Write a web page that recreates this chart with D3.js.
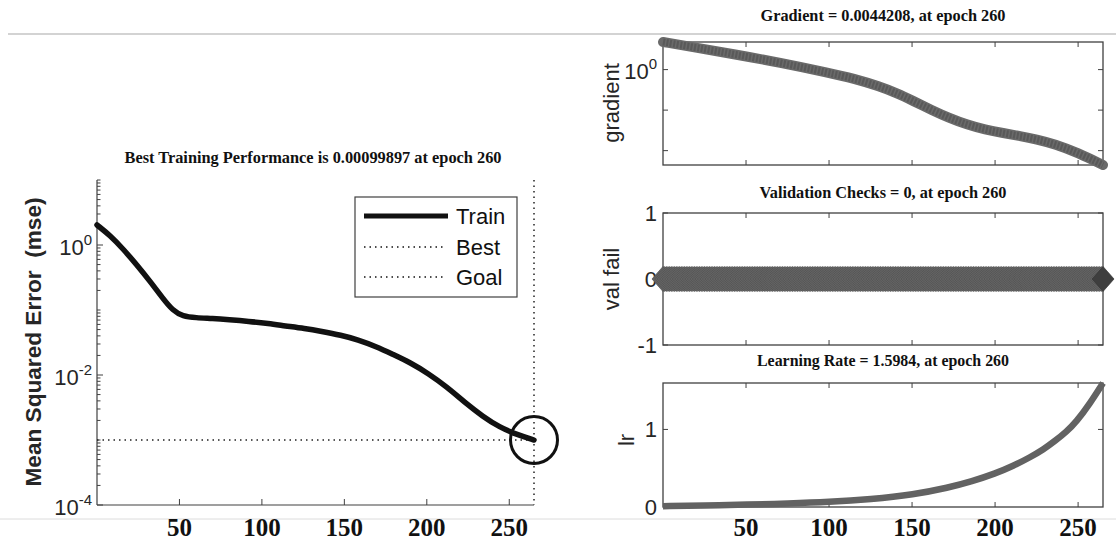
<!DOCTYPE html>
<html>
<head>
<meta charset="utf-8">
<script src="https://cdn.jsdelivr.net/npm/d3@7"></script>
<style>
  body { margin: 0; background: #fff; }
  svg { display: block; }
  text { white-space: pre; }
</style>
</head>
<body>
<svg id="chart" width="1116" height="541"></svg>
<script>
// ---- data ----
const xTicks = [50, 100, 150, 200, 250];
const lastEpoch = 265;

const trainEpochs = [0, 8, 16, 24, 32, 40, 46, 52, 60, 70, 80, 92, 104, 114, 126, 136, 148, 158, 170, 179, 190, 201, 212, 223, 234, 244, 255, 265];
const trainMse = [2.03, 1.4, 0.86, 0.5, 0.28, 0.15, 0.098, 0.08, 0.076, 0.074, 0.071, 0.067, 0.062, 0.057, 0.052, 0.047, 0.041, 0.035, 0.027, 0.021, 0.0155, 0.0105, 0.0066, 0.0038, 0.0023, 0.00158, 0.0012, 0.00099897];
const bestPerf = 0.00099897;
const goal = 0.001;
const perfTicks = [1e-4, 1e-2, 1e0];

const gradEpochs = [0, 20, 44, 70, 100, 115, 130, 141, 151, 162, 172, 183, 194, 205, 215, 225, 236, 250, 265];
const gradValues = [4.8, 3.5, 2.34, 1.5, 0.83, 0.6, 0.39, 0.26, 0.166, 0.1, 0.065, 0.044, 0.033, 0.027, 0.023, 0.019, 0.0145, 0.0088, 0.0044208];

const valEpochs = d3.range(0, lastEpoch + 1);
const valFail = valEpochs.map(() => 0);

const lrEpochs = [0, 25, 51, 75, 100, 125, 151, 172, 186, 200, 211, 221, 229, 236, 243, 249, 257, 265];
const lrValues = [0.01, 0.02, 0.03, 0.045, 0.065, 0.1, 0.16, 0.25, 0.33, 0.43, 0.53, 0.64, 0.74, 0.85, 0.97, 1.1, 1.33, 1.5984];

const titles = {
  perf: "Best Training Performance is 0.00099897 at epoch 260",
  grad: "Gradient = 0.0044208, at epoch 260",
  val: "Validation Checks = 0, at epoch 260",
  lr: "Learning Rate = 1.5984, at epoch 260"
};

const svg = d3.select("#chart");
const axisColor = "#404040";
const labelColor = "#262626";
const serif = "'Liberation Serif', 'DejaVu Serif', serif";
const sans = "'Liberation Sans', Arial, sans-serif";

// light separator lines
svg.append("line").attr("x1", 8).attr("x2", 1116).attr("y1", 34).attr("y2", 34)
  .attr("stroke", "#c4c4c4").attr("stroke-width", 1.5);
svg.append("line").attr("x1", 0).attr("x2", 1116).attr("y1", 519).attr("y2", 519)
  .attr("stroke", "#dcdcdc").attr("stroke-width", 1);

function title(text, x, y, len) {
  svg.append("text").attr("x", x).attr("y", y).attr("text-anchor", "middle")
    .attr("font-family", serif).attr("font-weight", "bold").attr("font-size", 16)
    .attr("textLength", len).attr("lengthAdjust", "spacingAndGlyphs")
    .attr("fill", "#111").text(text);
}

function powLabel(g, x, y, exp) {
  const t = g.append("text").attr("x", x).attr("y", y).attr("text-anchor", "end")
    .attr("font-family", sans).attr("font-size", 22).attr("fill", labelColor);
  t.append("tspan").text("10");
  t.append("tspan").attr("dy", -10).attr("font-size", 15).text(exp);
}

function plainYLabel(x, y, text, size, bold, len) {
  const t = svg.append("text").attr("transform", `translate(${x},${y}) rotate(-90)`)
    .attr("text-anchor", "middle").attr("font-family", sans)
    .attr("font-size", size).attr("font-weight", bold ? "bold" : "normal")
    .attr("fill", labelColor).text(text);
  if (len) t.attr("textLength", len).attr("lengthAdjust", "spacingAndGlyphs");
}

function xTickLabels(x, y) {
  svg.append("g").selectAll("text").data(xTicks).enter().append("text")
    .attr("x", d => x(d)).attr("y", y).attr("text-anchor", "middle")
    .attr("font-family", serif).attr("font-weight", "bold").attr("font-size", 25)
    .attr("fill", "#111").text(d => d);
}

// ================= left: performance =================
const xP = d3.scaleLinear().domain([0, lastEpoch]).range([97, 534]);
const yP = d3.scaleLog().domain([1e-4, 1e1]).range([505, 180]);

const gP = svg.append("g");
// minor + major log ticks, pointing inward
const minorP = [];
for (let k = -4; k < 1; k++) for (let m = 1; m < 10; m++) minorP.push(m * Math.pow(10, k));
minorP.push(10);
gP.append("g").selectAll("line").data(minorP).enter().append("line")
  .attr("x1", xP(0)).attr("x2", d => xP(0) + (perfTicks.includes(d) ? 6 : 3.5))
  .attr("y1", d => yP(d)).attr("y2", d => yP(d))
  .attr("stroke", axisColor).attr("stroke-width", 1);
gP.append("g").selectAll("line").data(xTicks).enter().append("line")
  .attr("x1", d => xP(d)).attr("x2", d => xP(d)).attr("y1", yP(1e-4)).attr("y2", yP(1e-4) - 6)
  .attr("stroke", axisColor).attr("stroke-width", 1);
gP.append("line").attr("x1", xP(0)).attr("x2", xP(0)).attr("y1", yP(1e1)).attr("y2", yP(1e-4))
  .attr("stroke", axisColor).attr("stroke-width", 1.2);
gP.append("line").attr("x1", xP(0)).attr("x2", xP(lastEpoch)).attr("y1", yP(1e-4)).attr("y2", yP(1e-4))
  .attr("stroke", axisColor).attr("stroke-width", 1.2);

perfTicks.forEach(v => powLabel(gP, xP(0) - 5, yP(v) + 10, Math.round(Math.log10(v))));

// best / goal dotted lines
gP.append("line").attr("x1", xP(lastEpoch)).attr("x2", xP(lastEpoch)).attr("y1", yP(1e1)).attr("y2", yP(1e-4))
  .attr("stroke", "#222").attr("stroke-width", 1.5).attr("stroke-dasharray", "1.5,4");
gP.append("line").attr("x1", xP(0)).attr("x2", xP(lastEpoch)).attr("y1", yP(goal)).attr("y2", yP(goal))
  .attr("stroke", "#222").attr("stroke-width", 1.5).attr("stroke-dasharray", "1.5,4");

const trainLine = d3.line().x((d, i) => xP(trainEpochs[i])).y(d => yP(d)).curve(d3.curveBasis);
gP.append("path").datum(trainMse).attr("d", trainLine)
  .attr("fill", "none").attr("stroke", "#111").attr("stroke-width", 5.5).attr("stroke-linecap", "round");

gP.append("circle").attr("cx", xP(lastEpoch)).attr("cy", yP(bestPerf)).attr("r", 23.5)
  .attr("fill", "none").attr("stroke", "#111").attr("stroke-width", 3);

// legend
const leg = gP.append("g");
leg.append("rect").attr("x", 355).attr("y", 197).attr("width", 162).attr("height", 100)
  .attr("fill", "#fff").attr("stroke", axisColor).attr("stroke-width", 1.2);
const legItems = [
  { name: "Train", y: 216, dash: null, w: 5 },
  { name: "Best", y: 247, dash: "1.5,4", w: 1.5 },
  { name: "Goal", y: 277, dash: "1.5,4", w: 1.5 }
];
legItems.forEach(it => {
  leg.append("line").attr("x1", 364).attr("x2", it.dash ? 443 : 448).attr("y1", it.y).attr("y2", it.y)
    .attr("stroke", "#111").attr("stroke-width", it.w).attr("stroke-dasharray", it.dash);
  leg.append("text").attr("x", 456).attr("y", it.y + 8).attr("font-family", sans).attr("font-size", 22)
    .attr("fill", "#111").text(it.name);
});

title(titles.perf, 313, 163, 377);
plainYLabel(41, 342, "Mean Squared Error  (mse)", 22, true, 289);
xTickLabels(xP, 536);

// ================= right panels =================
const xR = d3.scaleLinear().domain([0, lastEpoch]).range([663, 1103]);

function boxFrame(y, yTicks) {
  const g = svg.append("g");
  const [y0, y1] = y.range();
  g.append("rect").attr("x", xR(0)).attr("y", y1).attr("width", xR(lastEpoch) - xR(0)).attr("height", y0 - y1)
    .attr("fill", "none").attr("stroke", axisColor).attr("stroke-width", 1.3);
  xTicks.forEach(t => {
    g.append("line").attr("x1", xR(t)).attr("x2", xR(t)).attr("y1", y0).attr("y2", y0 - 5).attr("stroke", axisColor);
    g.append("line").attr("x1", xR(t)).attr("x2", xR(t)).attr("y1", y1).attr("y2", y1 + 5).attr("stroke", axisColor);
  });
  yTicks.forEach(t => {
    g.append("line").attr("x1", xR(0)).attr("x2", xR(0) + 5).attr("y1", y(t)).attr("y2", y(t)).attr("stroke", axisColor);
    g.append("line").attr("x1", xR(lastEpoch)).attr("x2", xR(lastEpoch) - 5).attr("y1", y(t)).attr("y2", y(t)).attr("stroke", axisColor);
  });
  return g;
}

function numLabels(y, ticks) {
  svg.append("g").selectAll("text").data(ticks).enter().append("text")
    .attr("x", xR(0) - 6).attr("y", d => y(d) + 8).attr("text-anchor", "end")
    .attr("font-family", sans).attr("font-size", 22).attr("fill", labelColor).text(d => d);
}

// gradient
const yG = d3.scaleLog().domain([0.0044208, 4.8]).range([165, 42]);
boxFrame(yG, [1, 0.1, 0.01]);
powLabel(svg, xR(0) - 6, yG(1) + 9, 0);
const gradLine = d3.line().x((d, i) => xR(gradEpochs[i])).y(d => yG(d)).curve(d3.curveBasis);
svg.append("path").datum(gradValues).attr("d", gradLine)
  .attr("fill", "none").attr("stroke", "#6a6a6a").attr("stroke-width", 10).attr("stroke-linecap", "round");
svg.append("path").datum(gradValues).attr("d", gradLine)
  .attr("fill", "none").attr("stroke", "#595959").attr("stroke-width", 7).attr("stroke-dasharray", "2,1.5");
title(titles.grad, 883, 21, 245);
plainYLabel(619, 103, "gradient", 22, false);

// validation checks
const yV = d3.scaleLinear().domain([-1, 1]).range([345, 213]);
numLabels(yV, [1, 0, -1]);
boxFrame(yV, [1, 0, -1]);
const diamond = (cx, cy, w, h) => `M${cx},${cy - h}L${cx + w},${cy}L${cx},${cy + h}L${cx - w},${cy}Z`;
svg.append("g").selectAll("path").data(valFail).enter().append("path")
  .attr("d", (d, i) => diamond(xR(valEpochs[i]), yV(d), 11, 12.5))
  .attr("fill", (d, i) => i === valFail.length - 1 ? "#3e3e3e" : "#6a6a6a")
  .attr("stroke", (d, i) => i === valFail.length - 1 ? "#333" : "#4e4e4e").attr("stroke-width", 0.7);
title(titles.val, 883, 198, 247);
plainYLabel(619, 279, "val fail", 22, false);

// learning rate
const yL = d3.scaleLinear().domain([0, 1.5984]).range([507, 383]);
numLabels(yL, [1, 0]);
boxFrame(yL, [1]);
const lrLine = d3.line().x((d, i) => xR(lrEpochs[i])).y(d => yL(d)).curve(d3.curveBasis);
svg.append("path").datum(lrValues).attr("d", lrLine)
  .attr("fill", "none").attr("stroke", "#626262").attr("stroke-width", 6.5);
title(titles.lr, 883, 366, 252);
plainYLabel(634, 440, "lr", 22, false);
xTickLabels(xR, 536);
</script>
</body>
</html>
